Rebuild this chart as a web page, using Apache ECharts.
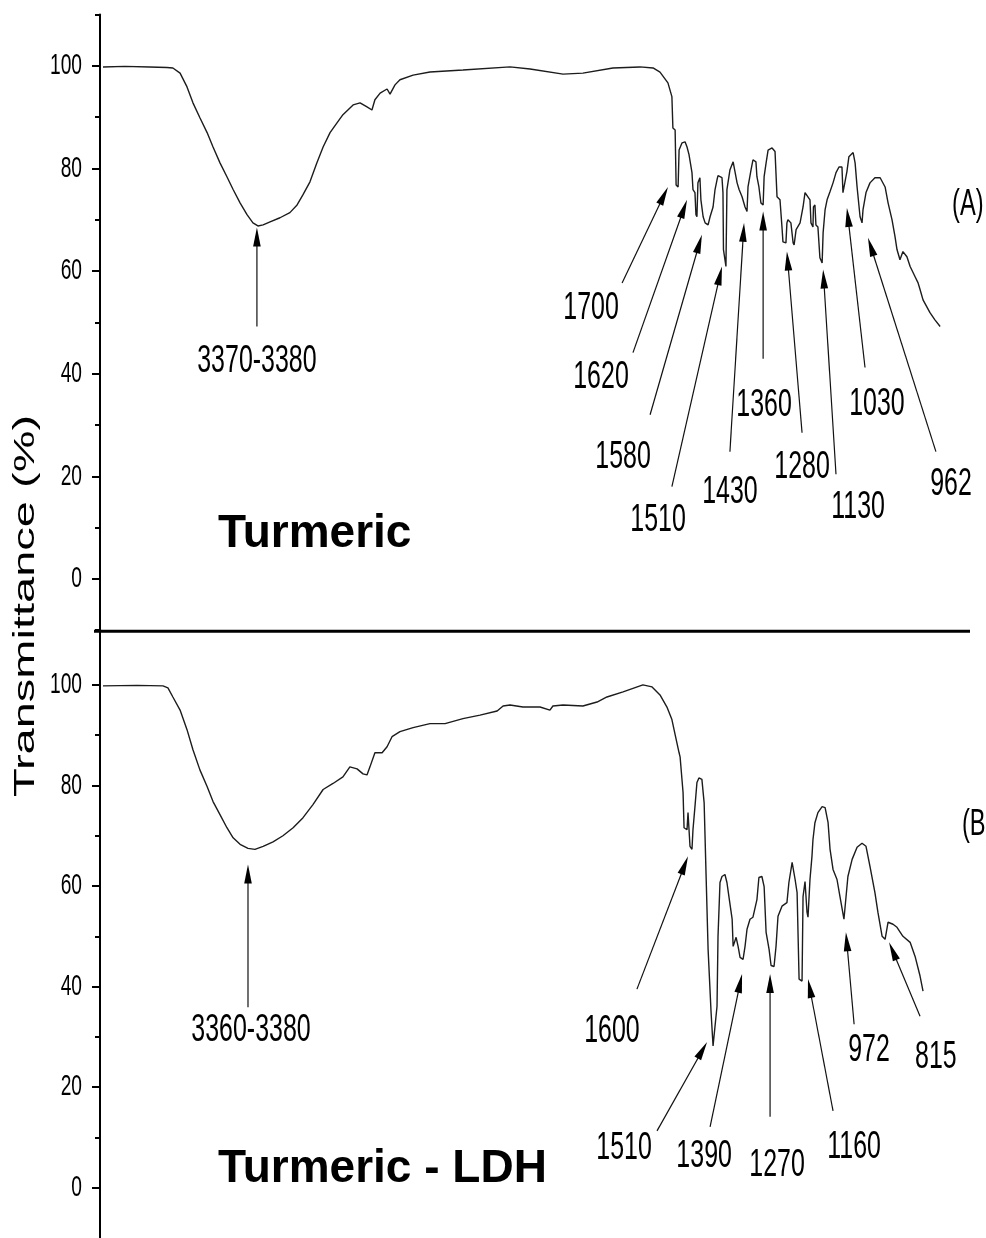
<!DOCTYPE html>
<html><head><meta charset="utf-8">
<script src="https://cdn.jsdelivr.net/npm/echarts@6/dist/echarts.min.js"></script>
<style>html,body{margin:0;padding:0;background:#fff}#c{width:986px;height:1238px}</style>
</head><body><div id="c"></div>
<script>
// Spectrum A: Turmeric  [wavenumber cm-1, transmittance %]
const specA = [[3988,99.8],[3900,99.9],[3800,99.8],[3730,99.7],[3706,99.6],[3677,98.6],[3649,95.9],[3625,92.8],[3597,89.9],[3568,87.0],[3544,84.2],[3516,81.1],[3488,78.4],[3463,75.9],[3435,73.3],[3407,71.0],[3383,69.4],[3363,68.8],[3342,69.0],[3314,69.6],[3274,70.4],[3234,71.4],[3205,72.9],[3181,74.9],[3153,77.4],[3125,81.1],[3100,84.2],[3072,87.0],[3044,88.9],[3020,90.5],[2979,92.4],[2951,92.8],[2923,92.0],[2903,91.4],[2891,93.4],[2870,94.7],[2842,95.5],[2830,94.5],[2810,96.3],[2790,97.3],[2737,98.2],[2669,98.8],[2536,99.2],[2346,99.8],[2265,99.4],[2132,98.4],[2052,98.6],[1931,99.6],[1822,99.8],[1769,99.6],[1741,98.8],[1709,96.7],[1693,94.0],[1689,87.9],[1680,87.5],[1676,76.8],[1668,76.4],[1664,83.6],[1652,85.0],[1640,85.2],[1632,84.2],[1624,82.7],[1612,79.2],[1608,75.9],[1600,75.3],[1596,71.0],[1592,70.6],[1588,77.2],[1580,78.2],[1576,73.9],[1567,70.6],[1559,69.4],[1547,69.0],[1539,70.6],[1527,72.5],[1519,75.9],[1511,77.8],[1507,78.6],[1491,78.2],[1487,75.3],[1485,64.2],[1479,64.2],[1475,60.9],[1471,75.9],[1459,79.7],[1446,81.3],[1438,81.1],[1430,77.2],[1422,75.9],[1410,74.5],[1398,72.5],[1390,71.6],[1386,76.4],[1374,79.7],[1366,81.7],[1354,81.3],[1350,78.4],[1342,76.4],[1334,73.3],[1325,72.9],[1321,78.4],[1313,81.1],[1305,83.6],[1289,84.0],[1277,83.3],[1269,74.5],[1257,73.9],[1249,68.6],[1245,65.7],[1233,65.5],[1229,69.4],[1225,70.0],[1213,69.4],[1204,65.5],[1200,65.1],[1192,68.1],[1184,68.1],[1176,69.4],[1164,72.5],[1156,75.3],[1148,75.5],[1136,73.9],[1132,69.4],[1124,68.6],[1122,72.5],[1116,72.9],[1112,69.0],[1104,68.6],[1096,62.6],[1087,61.6],[1083,67.5],[1075,72.0],[1067,73.9],[1055,75.5],[1043,77.2],[1031,79.2],[1019,80.3],[1007,80.3],[1003,75.3],[995,75.3],[987,79.4],[979,82.3],[962,83.1],[954,81.1],[946,76.4],[934,70.6],[926,69.4],[922,72.0],[910,75.3],[894,77.2],[874,78.2],[853,78.2],[833,76.4],[821,73.3],[805,70.0],[793,66.7],[785,64.2],[773,62.2],[761,63.8],[745,62.8],[732,60.9],[712,58.9],[700,57.7],[692,56.4],[680,54.4],[652,51.9],[632,50.5],[611,49.2]];

// Spectrum B: Turmeric - LDH
const specB = [[3988,99.8],[3850,99.9],[3746,99.8],[3726,99.4],[3706,97.6],[3677,95.0],[3649,91.1],[3625,87.1],[3597,83.1],[3568,79.8],[3544,76.8],[3516,74.2],[3488,71.6],[3463,69.6],[3435,68.3],[3403,67.5],[3375,67.3],[3342,67.9],[3302,68.8],[3262,70.0],[3221,71.6],[3181,73.6],[3141,76.2],[3100,79.2],[3060,80.4],[3020,81.7],[2992,83.7],[2963,83.3],[2939,82.3],[2923,82.1],[2911,83.7],[2891,86.5],[2862,86.5],[2842,87.7],[2822,89.7],[2790,90.7],[2737,91.5],[2669,92.3],[2608,92.3],[2536,93.3],[2467,94.0],[2398,94.8],[2374,95.8],[2346,96.0],[2294,95.6],[2225,95.6],[2185,95.0],[2173,95.8],[2132,96.0],[2052,95.8],[1995,96.6],[1955,97.6],[1890,98.6],[1810,100.0],[1773,99.6],[1741,98.0],[1713,95.6],[1693,93.1],[1680,90.1],[1664,86.5],[1660,85.7],[1648,78.6],[1644,71.6],[1632,71.2],[1628,74.6],[1624,74.6],[1620,67.9],[1612,67.3],[1608,71.2],[1600,75.8],[1592,80.6],[1584,81.5],[1572,81.2],[1563,76.6],[1555,61.9],[1547,47.4],[1535,34.9],[1527,28.2],[1519,28.2],[1511,36.1],[1507,50.0],[1499,60.7],[1491,61.9],[1479,62.3],[1471,60.7],[1463,57.9],[1450,53.4],[1446,48.0],[1434,49.8],[1426,48.0],[1418,45.8],[1406,45.4],[1398,48.0],[1390,51.4],[1378,53.4],[1366,53.8],[1350,57.3],[1342,61.7],[1330,61.9],[1321,59.9],[1313,50.8],[1301,47.4],[1293,44.2],[1281,44.0],[1273,48.0],[1265,54.0],[1249,56.0],[1229,56.7],[1221,60.7],[1208,64.7],[1200,64.7],[1196,61.3],[1188,58.7],[1180,41.5],[1168,41.1],[1164,57.9],[1156,60.9],[1148,54.8],[1144,53.8],[1136,61.3],[1128,65.9],[1124,69.2],[1116,72.6],[1104,74.6],[1087,75.8],[1075,75.6],[1063,72.6],[1055,67.3],[1043,63.3],[1027,61.3],[1015,57.9],[999,53.4],[995,53.4],[983,61.9],[966,65.3],[946,67.7],[926,68.5],[910,67.9],[894,63.9],[874,58.7],[862,54.8],[845,50.0],[833,49.4],[821,52.8],[801,52.4],[785,51.8],[761,50.0],[732,48.8],[712,46.0],[692,42.1],[680,39.1]];

const majorTicks = [0, 20, 40, 60, 80, 100];
const minorTicksA = [-10, 10, 30, 50, 70, 90, 110];
const minorTicksB = [10, 30, 50, 70, 90];
const yTitle = 'Transmittance (%)';
const panelLabels = ['(A)', '(B)'];
const panelLabelAt = [[563, 72.9], [523, 72.2]];
const sampleNames = ['Turmeric', 'Turmeric - LDH'];
const sampleNameAt = [[3524, 8.7], [3524, 3.6]];

// peak annotations: [text, tip wn, tip T, tail wn, tail T, label wn, label T]
const annA = [
  ['3370-3380', 3367, 68.5, 3367, 49.2, 3367, 42.4],
  ['1700', 1709, 76.4, 1894, 57.7, 2019, 52.7],
  ['1620', 1632, 73.9, 1850, 44.1, 1979, 39.4],
  ['1580', 1572, 67.1, 1781, 32.0, 1890, 23.7],
  ['1510', 1491, 60.9, 1693, 18.0, 1749, 11.4],
  ['1430', 1402, 69.4, 1459, 24.8, 1459, 16.8],
  ['1360', 1325, 71.6, 1325, 42.9, 1321, 33.8],
  ['1280', 1229, 63.8, 1168, 28.5, 1168, 21.7],
  ['1130', 1083, 60.3, 1031, 20.4, 942, 13.9],
  ['1030', 987, 72.3, 914, 41.2, 866, 34.0],
  ['962', 902, 66.5, 628, 24.8, 567, 18.4]
];
const annB = [
  ['3360-3380', 3403, 64.3, 3403, 35.9, 3391, 31.3],
  ['1600', 1628, 65.9, 1834, 39.5, 1935, 31.2],
  ['1510', 1551, 29.0, 1753, 11.3, 1886, 7.9],
  ['1390', 1410, 42.5, 1539, 12.1, 1563, 6.2],
  ['1270', 1297, 42.5, 1297, 14.1, 1269, 4.4],
  ['1160', 1144, 41.5, 1043, 15.3, 958, 8.1],
  ['972', 991, 50.8, 958, 32.5, 898, 27.4],
  ['815', 817, 48.8, 692, 34.1, 628, 26.0]
];

const FONT = '"Liberation Sans", Arial, "DejaVu Sans", sans-serif';
const SQ = 0.64; // horizontal squeeze of the original figure text

const panels = [
  {top: 14.6, height: 615.6, min: -10, max: 110, minor: minorTicksA},
  {top: 629.6, height: 609.8, min: -10, max: 111, minor: minorTicksB}
];

const chart = echarts.init(document.getElementById('c'), null, {renderer: 'canvas'});

const BLACK = {color: '#000', width: 2};
const yAxes = [];
panels.forEach((p, i) => {
  // data axis: axis line + labelled (major) ticks; the tick texts are drawn below, squeezed like the original
  yAxes.push({type: 'value', gridIndex: i, min: p.min, max: p.max, position: 'left',
    axisLine: {show: true, onZero: false, lineStyle: BLACK},
    axisTick: {show: true, inside: false, length: 8, customValues: majorTicks, lineStyle: BLACK},
    axisLabel: {show: true, customValues: majorTicks, formatter: () => ''},
    splitLine: {show: false}});
  // unlabelled minor ticks
  yAxes.push({type: 'value', gridIndex: i, min: p.min, max: p.max, position: 'left',
    axisLine: {show: false},
    axisTick: {show: true, inside: false, length: 5, customValues: p.minor, lineStyle: BLACK},
    axisLabel: {show: true, customValues: p.minor, formatter: () => ''},
    splitLine: {show: false}});
});

chart.setOption({
  animation: false,
  backgroundColor: '#fff',
  grid: panels.map(p => ({left: 100, top: p.top, width: 885, height: p.height})),
  xAxis: panels.map((p, i) => ({type: 'value', gridIndex: i, min: 430, max: 4000, inverse: true, show: false})),
  yAxis: yAxes,
  series: [
    {type: 'line', xAxisIndex: 0, yAxisIndex: 0, data: specA, showSymbol: false, symbol: 'none',
     lineStyle: {color: '#1c1c1c', width: 1.4}},
    {type: 'line', xAxisIndex: 1, yAxisIndex: 2, data: specB, showSymbol: false, symbol: 'none',
     lineStyle: {color: '#1c1c1c', width: 1.4}}
  ]
});

function toPx(gi, wn, t) {
  return chart.convertToPixel({xAxisIndex: gi, yAxisIndex: gi * 2}, [wn, t]);
}

const g = [];
function txt(x, y, s, font, align, opts) {
  const e = Object.assign({type: 'text', x: x, y: y, silent: true,
    style: {text: s, font: font, fill: '#000', align: align, verticalAlign: 'middle',
            textAlign: align, textVerticalAlign: 'middle'}}, opts || {});
  g.push(e);
}
function arrow(gi, a) {
  const tip = toPx(gi, a[1], a[2]);
  const tail = toPx(gi, a[3], a[4]);
  const dx = tip[0] - tail[0], dy = tip[1] - tail[1];
  const L = Math.sqrt(dx * dx + dy * dy);
  const ux = dx / L, uy = dy / L, nx = -uy, ny = ux;
  const hl = 19, hw = 3.8;
  const bx = tip[0] - ux * hl, by = tip[1] - uy * hl;
  g.push({type: 'line', silent: true, shape: {x1: tail[0], y1: tail[1], x2: bx + ux * 2, y2: by + uy * 2},
          style: {stroke: '#111', lineWidth: 1.2}});
  g.push({type: 'polygon', silent: true,
          shape: {points: [[tip[0], tip[1]], [bx + nx * hw, by + ny * hw], [bx - nx * hw, by - ny * hw]]},
          style: {fill: '#000'}});
  const lp = toPx(gi, a[5], a[6]);
  txt(lp[0], lp[1], a[0], '39px ' + FONT, 'center', {scaleX: SQ});
}
annA.forEach(a => arrow(0, a));
annB.forEach(a => arrow(1, a));

// tick labels, placed with each panel's value axis
[0, 1].forEach(gi => {
  majorTicks.forEach(v => {
    const y = chart.convertToPixel({yAxisIndex: gi * 2}, v);
    const x0 = chart.convertToPixel({xAxisIndex: gi}, 4000);
    txt(x0 - 18, y, String(v), '30px ' + FONT, 'right', {scaleX: SQ});
  });
});

panelLabels.forEach((s, i) => {
  const p = toPx(i, panelLabelAt[i][0], panelLabelAt[i][1]);
  txt(p[0], p[1], s, '37px ' + FONT, 'left', {scaleX: SQ});
});
sampleNames.forEach((s, i) => {
  const p = toPx(i, sampleNameAt[i][0], sampleNameAt[i][1]);
  txt(p[0], p[1], s, 'bold 46px ' + FONT, 'left');
});

txt(26, 606, yTitle, '47px ' + FONT, 'center', {rotation: Math.PI / 2, scaleY: SQ});

const sepY = chart.convertToPixel({yAxisIndex: 0}, -10);
g.push({type: 'line', silent: true, shape: {x1: 94, y1: sepY + 1, x2: 970, y2: sepY + 1},
        style: {stroke: '#000', lineWidth: 3}});

chart.setOption({graphic: {elements: g}});
</script>
</body></html>
